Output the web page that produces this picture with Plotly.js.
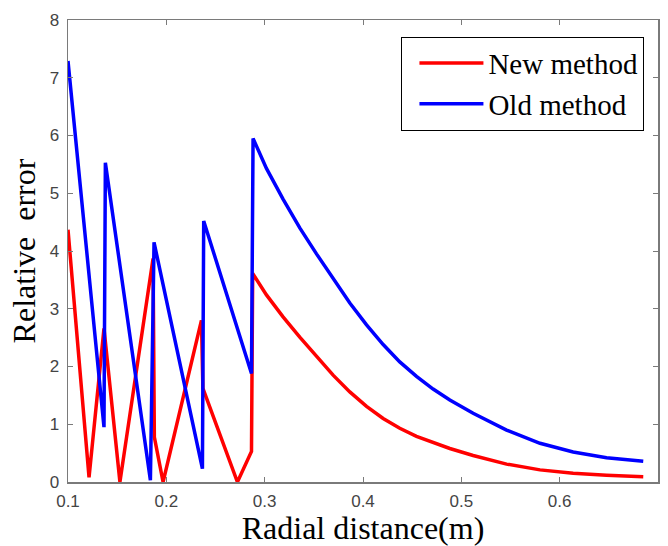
<!DOCTYPE html>
<html>
<head>
<meta charset="utf-8">
<script src="https://cdn.plot.ly/plotly-3.0.1.min.js"></script>
<style>html,body{margin:0;padding:0;background:#fff;}#chart{width:668px;height:546px;}</style>
</head>
<body>
<div id="chart"></div>
<script>
const newX = [0.1, 0.1214, 0.1366, 0.1528, 0.1865, 0.1878, 0.1967, 0.2357, 0.2372, 0.2723, 0.2866, 0.2878, 0.3018, 0.3187, 0.3357, 0.3527, 0.3696, 0.3866, 0.4036, 0.4205, 0.4374, 0.4544, 0.4713, 0.4883, 0.512, 0.546, 0.580, 0.6137, 0.6477, 0.685];
const newY = [4.37, 0.08, 2.66, 0.0, 3.87, 0.78, 0.0, 2.80, 1.62, 0.0, 0.53, 3.61, 3.24, 2.86, 2.51, 2.17, 1.85, 1.56, 1.31, 1.10, 0.93, 0.79, 0.68, 0.58, 0.46, 0.31, 0.21, 0.15, 0.115, 0.09];
const oldX = [0.1, 0.1366, 0.138, 0.1838, 0.1875, 0.2367, 0.238, 0.2866, 0.2882, 0.3018, 0.3187, 0.3357, 0.3527, 0.3696, 0.3866, 0.4036, 0.4205, 0.4374, 0.4544, 0.4713, 0.4883, 0.512, 0.546, 0.580, 0.6137, 0.6477, 0.685];
const oldY = [7.29, 0.95, 5.53, 0.03, 4.15, 0.23, 4.52, 1.88, 5.95, 5.43, 4.90, 4.40, 3.95, 3.52, 3.10, 2.72, 2.38, 2.08, 1.83, 1.61, 1.42, 1.19, 0.90, 0.67, 0.52, 0.42, 0.36];
const seriesNames = ["New method", "Old method"];
const xTicks = [0.1, 0.2, 0.3, 0.4, 0.5, 0.6, 0.7];
const yTicks = [0, 1, 2, 3, 4, 5, 6, 7, 8];

const traces = [
  {x: newX, y: newY, name: seriesNames[0], type: 'scatter', mode: 'lines', line: {color: '#ff0000', width: 3.5}},
  {x: oldX, y: oldY, name: seriesNames[1], type: 'scatter', mode: 'lines', line: {color: '#0000ff', width: 3.5}}
];
const axisCommon = {
  showgrid: false, zeroline: false, showline: true, linecolor: '#7a7a7a', linewidth: 1.5,
  mirror: 'ticks', ticks: 'inside', ticklen: 5, tickcolor: '#7a7a7a', tickwidth: 1,
  tickfont: {family: 'Liberation Sans, Arial, sans-serif', size: 17, color: '#444'}
};
const layout = {
  width: 668, height: 546,
  margin: {l: 68, r: 10, t: 20, b: 64},
  paper_bgcolor: '#fff', plot_bgcolor: '#fff',
  showlegend: true,
  xaxis: Object.assign({}, axisCommon, {
    range: [0.1, 0.7], tickvals: xTicks, ticktext: xTicks.map(v => v.toFixed(1)),
    ticklabelstandoff: 3,
    title: {text: '\u00a0Radial distance(m)', font: {family: 'Liberation Serif, Times New Roman, serif', size: 32, color: '#000'}, standoff: 5}
  }),
  yaxis: Object.assign({}, axisCommon, {
    range: [0, 8], tickvals: yTicks, ticktext: yTicks.map(String),
    ticklabelstandoff: 4,
    title: {text: 'Relative\u00a0 error\u00a0\u00a0\u00a0\u00a0', font: {family: 'Liberation Serif, Times New Roman, serif', size: 32, color: '#000'}, standoff: 4}
  }),
  legend: {
    x: 0.977, y: 0.964, xanchor: 'right', yanchor: 'top',
    bgcolor: '#fff', bordercolor: '#000', borderwidth: 1,
    itemwidth: 64, indentation: 12,
    font: {family: 'Liberation Serif, Times New Roman, serif', size: 29, color: '#000'},
    tracegroupgap: 0
  }
};
Plotly.newPlot('chart', traces, layout, {displayModeBar: false, staticPlot: true});
</script>
</body>
</html>
